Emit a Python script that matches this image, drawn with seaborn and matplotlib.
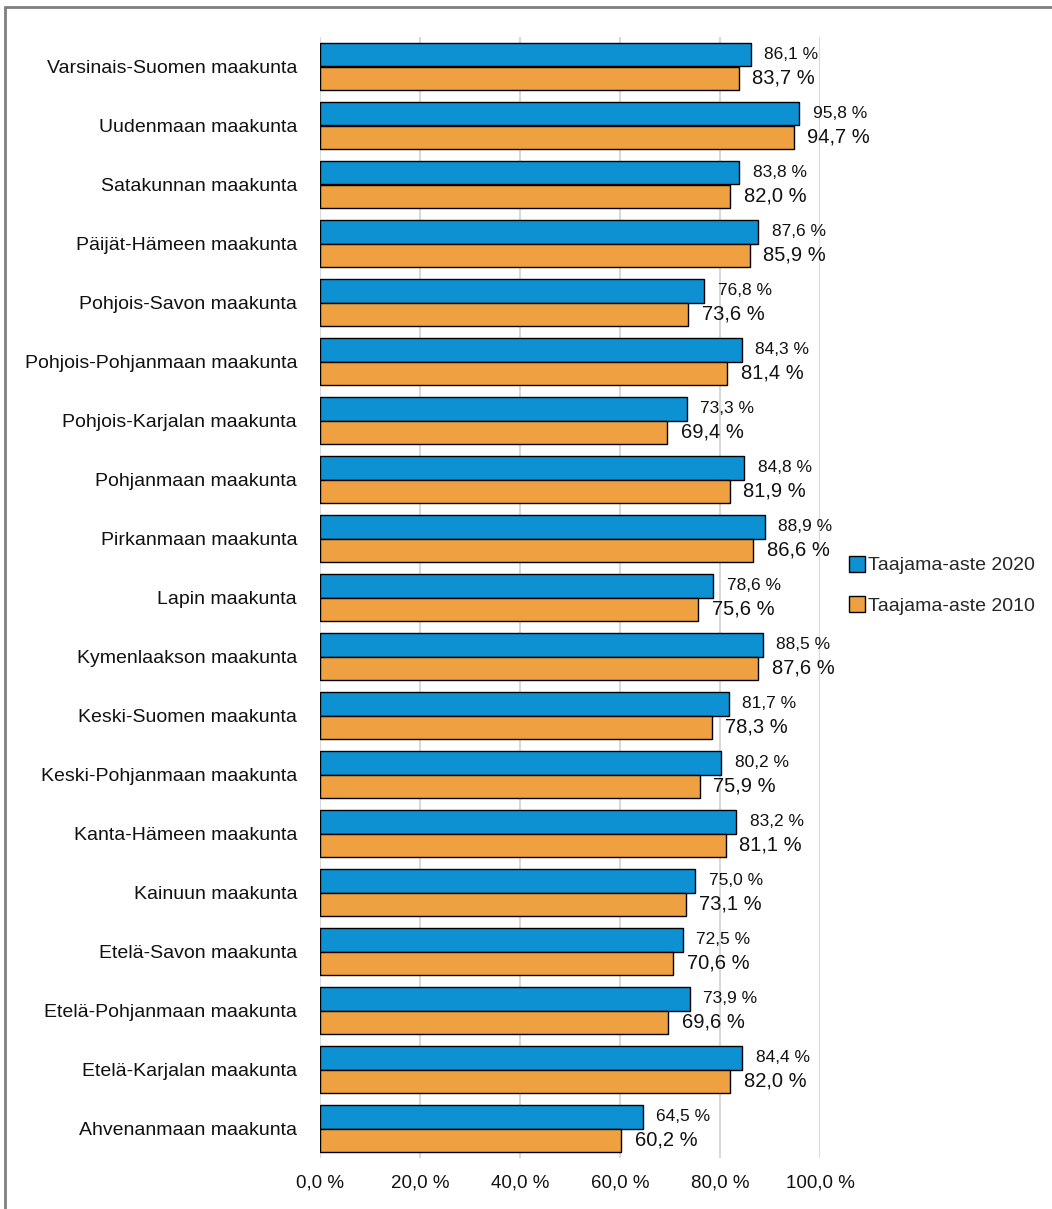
import pandas as pd
import seaborn as sns
import matplotlib.pyplot as plt
from matplotlib.lines import Line2D

regions = [
    "Varsinais-Suomen maakunta", "Uudenmaan maakunta", "Satakunnan maakunta",
    "Päijät-Hämeen maakunta", "Pohjois-Savon maakunta", "Pohjois-Pohjanmaan maakunta",
    "Pohjois-Karjalan maakunta", "Pohjanmaan maakunta", "Pirkanmaan maakunta",
    "Lapin maakunta", "Kymenlaakson maakunta", "Keski-Suomen maakunta",
    "Keski-Pohjanmaan maakunta", "Kanta-Hämeen maakunta", "Kainuun maakunta",
    "Etelä-Savon maakunta", "Etelä-Pohjanmaan maakunta", "Etelä-Karjalan maakunta",
    "Ahvenanmaan maakunta",
]
aste_2020 = [86.1, 95.8, 83.8, 87.6, 76.8, 84.3, 73.3, 84.8, 88.9, 78.6,
             88.5, 81.7, 80.2, 83.2, 75.0, 72.5, 73.9, 84.4, 64.5]
aste_2010 = [83.7, 94.7, 82.0, 85.9, 73.6, 81.4, 69.4, 81.9, 86.6, 75.6,
             87.6, 78.3, 75.9, 81.1, 73.1, 70.6, 69.6, 82.0, 60.2]
series = ["Taajama-aste 2020", "Taajama-aste 2010"]
colors = ["#0E91D2", "#EFA040"]

df = pd.concat([
    pd.DataFrame({"Maakunta": regions, "Sarja": series[0], "Arvo": aste_2020}),
    pd.DataFrame({"Maakunta": regions, "Sarja": series[1], "Arvo": aste_2010}),
])

sns.set_style("white")
plt.rcParams["font.family"] = ["Liberation Sans Narrow", "Liberation Sans", "DejaVu Sans"]


def fmt(v):
    return f"{v:.1f} %".replace(".", ",")


fig = plt.figure(figsize=(10.52, 12.09), dpi=100)
top, bottom = 37, 1158
ax = fig.add_axes([320 / 1052, 1 - bottom / 1209, 500 / 1052, (bottom - top) / 1209])

sns.barplot(data=df, y="Maakunta", x="Arvo", hue="Sarja", orient="h",
            palette=colors, saturation=1, width=0.79, edgecolor="black",
            linewidth=1.0, legend=False, ax=ax)

# data labels: 2020 smaller, 2010 larger
for cont, size in zip(ax.containers, [12.5, 14.5]):
    ax.bar_label(cont, labels=[fmt(b.get_width()) for b in cont],
                 padding=10, fontsize=size, color="#111111")

ax.set_xlim(0, 100)
ax.set_xticks(range(0, 101, 20))
ax.set_xticklabels([fmt(t) for t in range(0, 101, 20)])
ax.tick_params(axis="x", labelsize=13.5, length=0, pad=12, labelcolor="#111111")
ax.tick_params(axis="y", labelsize=14, length=0, pad=16.5, labelcolor="#111111")
ax.set_xlabel("")
ax.set_ylabel("")
ax.xaxis.grid(True, color="#D9D9D9", linewidth=1.5)
ax.set_axisbelow(True)
for s in ax.spines.values():
    s.set_visible(False)
ax.set_ylim(len(regions) - 0.5, -0.5)

handles = [Line2D([], [], marker="s", linestyle="", markersize=11,
                  markerfacecolor=c, markeredgecolor="black", markeredgewidth=1)
           for c in colors]
fig.legend(handles, series, loc="center left", bbox_to_anchor=(830 / 1052, 1 - 586 / 1209),
           frameon=False, fontsize=14, handletextpad=0.05, labelspacing=1.2,
           handlelength=1.0)

# outer frame (top and left only)
fig.add_artist(Line2D([5 / 1052, 5 / 1052], [0, 1 - 7 / 1209], color="#7F7F7F", linewidth=2))
fig.add_artist(Line2D([5 / 1052, 1], [1 - 7 / 1209, 1 - 7 / 1209], color="#7F7F7F", linewidth=2))

fig.savefig("out.png", dpi=100)
